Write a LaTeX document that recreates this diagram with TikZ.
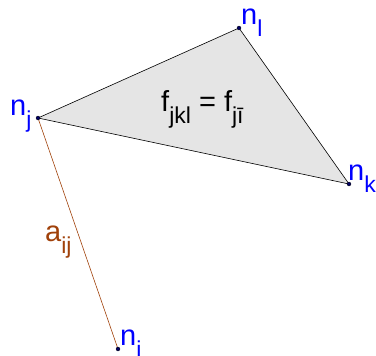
\documentclass[tikz,border=0pt]{standalone}
\usepackage{fontspec}
\setmainfont{Liberation Sans}
\definecolor{ptblue}{RGB}{0,0,255}
\definecolor{ptdot}{RGB}{0,0,100}
\definecolor{edgebrown}{RGB}{160,65,10}
\definecolor{facegray}{RGB}{229,229,229}
\newcommand{\lbl}[2]{#1\raisebox{-0.42em}{\fontsize{23}{23}\selectfont #2}}
\begin{document}
\begin{tikzpicture}[x=1pt,y=-1pt,
  lab/.style={font=\fontsize{29}{29}\selectfont, inner sep=0pt, anchor=base west},
  pt/.style={circle, fill=ptdot, draw=black, line width=0.3pt, inner sep=0pt, minimum size=4pt}]
\useasboundingbox (0,0) rectangle (376,356);
\coordinate (j) at (38,118);
\coordinate (l) at (239,28);
\coordinate (k) at (349,184);
\coordinate (i) at (118,349);
\filldraw[fill=facegray, draw=black, line width=0.6pt, line join=round] (j) -- (l) -- (k) -- cycle;
\draw[edgebrown, line width=0.6pt] (j) -- (i);
\node[pt] (nj) at (j) {};
\node[pt] (nl) at (l) {};
\node[pt] (nk) at (k) {};
\node[pt] (ni) at (i) {};
\node[lab, text=ptblue] (tj) at (10,115) {\lbl{n}{j}};
\node[lab, text=ptblue] (tl) at (241,24) {\lbl{n}{l}};
\node[lab, text=ptblue] (tk) at (348,180) {\lbl{n}{k}};
\node[lab, text=ptblue] (ti) at (120,345) {\lbl{n}{i}};
\node[lab, text=edgebrown] (ta) at (45,241) {\lbl{a}{ij}};
\node[lab] (tf) at (161,111) {\lbl{f}{jkl} = \lbl{f}{jī}};
\end{tikzpicture}
\end{document}
